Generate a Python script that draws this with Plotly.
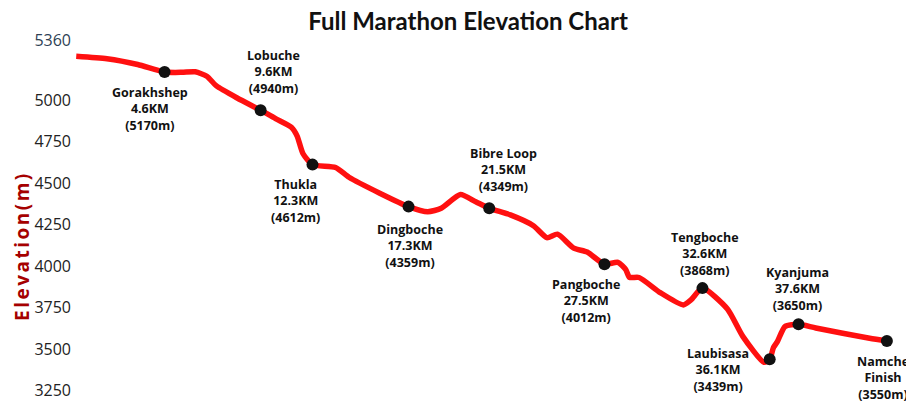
import plotly.graph_objects as go

RED = "#FF1010"
DARK_RED = "#A50000"
BLACK = "#111"

# Route profile (km, elevation m)
route_km = [0, 1.6, 3.2, 4.6, 5.5, 6.2, 6.8, 7.3, 8.4, 9.6, 10.4, 11.2, 11.5,
            11.8, 12.3, 13.5, 14.2, 15.8, 17.3, 18.3, 19.0, 20.0, 20.8, 21.5,
            22.6, 23.8, 24.5, 25.05, 25.9, 26.6, 27.5, 28.2, 28.6, 28.8, 29.3,
            30.4, 31.6, 32.0, 32.6, 33.9, 34.7, 35.8, 36.1, 36.3, 36.5, 36.9,
            37.6, 38.5, 41.3, 42.2]
route_elev = [5265, 5250, 5215, 5170, 5168, 5171, 5144, 5086, 5012, 4940, 4888,
              4837, 4784, 4679, 4612, 4595, 4536, 4440, 4359, 4328, 4349, 4432,
              4388, 4349, 4309, 4244, 4172, 4193, 4109, 4085, 4012, 4023, 3981,
              3933, 3932, 3841, 3767, 3797, 3868, 3742, 3577, 3421, 3439, 3511,
              3546, 3637, 3650, 3628, 3566, 3550]

# Checkpoints
stop_names = ["Gorakhshep", "Lobuche", "Thukla", "Dingboche", "Bibre Loop",
              "Pangboche", "Tengboche", "Laubisasa", "Kyanjuma", "Namche"]
stop_km = [4.6, 9.6, 12.3, 17.3, 21.5, 27.5, 32.6, 36.1, 37.6, 42.2]
stop_elev = [5170, 4940, 4612, 4359, 4349, 4012, 3868, 3439, 3650, 3550]
stop_km_text = ["4.6KM", "9.6KM", "12.3KM", "17.3KM", "21.5KM", "27.5KM",
                "32.6KM", "36.1KM", "37.6KM", "Finish"]

y_ticks = [3250, 3500, 3750, 4000, 4250, 4500, 4750, 5000, 5360]

# label placement: (x shift px, y shift px, yanchor)
label_pos = [(-15, -10, "top"), (13, 11, "bottom"), (-17, -9, "top"),
             (1, -12, "top"), (14, 11, "bottom"), (-18, -10, "top"),
             (3, 7, "bottom"), (-52, 16, "top"), (-1, 8, "bottom"),
             (-4, -10, "top")]

# page body adds an 8px margin, so the figure is drawn 8px smaller
W, H = 906, 397
L, R, T, B = 64, 6, 22, 5

fig = go.Figure()
fig.add_trace(go.Scatter(
    x=route_km, y=route_elev, mode="lines",
    line=dict(color=RED, width=5.5, shape="spline", smoothing=0.6),
    hoverinfo="skip",
))
fig.add_trace(go.Scatter(
    x=stop_km, y=stop_elev, mode="markers",
    marker=dict(color=BLACK, size=12),
    cliponaxis=False,
))

for name, km, elev, kt, (dx, dy, anchor) in zip(
        stop_names, stop_km, stop_elev, stop_km_text, label_pos):
    fig.add_annotation(
        x=km, y=elev, xref="x", yref="y",
        text=f"{name}<br>{kt}<br>({elev}m)",
        showarrow=False, xshift=dx, yshift=dy, yanchor=anchor,
        font=dict(family="Open Sans", size=12.5, color=BLACK, weight="bold"),
        align="center",
    )

# rotated axis title, letter-spaced like the original
fig.add_annotation(
    xref="paper", yref="paper", x=-L / (W - L - R), y=1 - (238 - T) / (H - T - B),
    xanchor="left", yanchor="middle",
    text='<span style="letter-spacing:2.5px">Elevation(m)</span>',
    showarrow=False, textangle=-90, borderpad=0,
    font=dict(family="Open Sans", size=19, color=DARK_RED, weight="bold"),
)

tick_text = [str(v) for v in y_ticks]
tick_text[-1] = '<span style="color:#2E3F55">5360</span>'

fig.update_xaxes(visible=False, range=[-0.22, 43.3])
fig.update_yaxes(
    range=[3194, 5423], tickvals=y_ticks, ticktext=tick_text,
    showgrid=False, zeroline=False, showline=False, ticks="",
    tickfont=dict(family="Open Sans", size=16, color="#222"),
)
fig.update_layout(
    width=W, height=H,
    margin=dict(l=L, r=R, t=T, b=B),
    showlegend=False,
    plot_bgcolor="white", paper_bgcolor="white",
    title=dict(text="<b>Full Marathon Elevation Chart</b>", x=460 / W,
               y=1 - 14 / H, xanchor="center", yanchor="middle",
               yref="container", pad=dict(t=0, b=0),
               font=dict(family="Lato", size=24, color=BLACK)),
)
fig.write_html("out.html")
